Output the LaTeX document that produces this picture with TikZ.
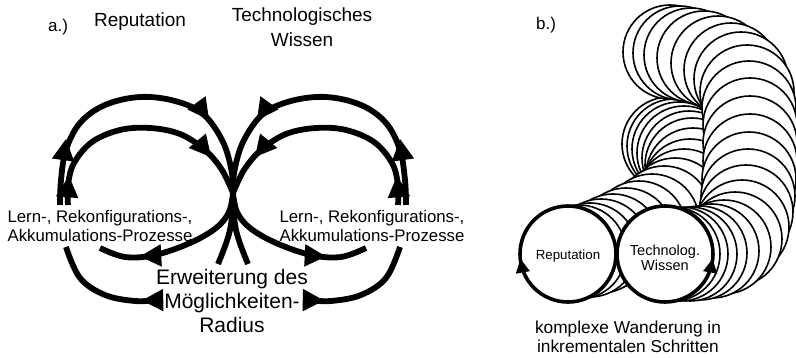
\documentclass[tikz,border=0pt]{standalone}
\usepackage{fontspec}
\setmainfont{Liberation Sans}
\tikzset{
  loopline/.style={line width=5.8pt},
  bgcirc/.style={draw, fill=white, line width=1.6pt},
  boldcirc/.style={draw, fill=white, line width=3.6pt},
  lbl/.style={inner sep=0pt, align=center},
}
% arrow head: tip point (x,y), screen angle, scale
\newcommand{\tipat}[4]{\fill[shift={(#1,#2)}, rotate=#3, scale=#4] (0,0) -- (-17,9) -- (-17,-9) -- cycle;}
\newcommand{\wingpaths}{%
  \draw[loopline] plot[smooth,tension=0.6] coordinates {(60,205) (61,180) (66,150) (80,123) (105,105) (140,97) (175,101) (203,114) (222,140) (231,168) (233,193) (230,230) (218,264)};
  \draw[loopline] plot[smooth,tension=0.6] coordinates {(68,205) (68,185) (74,163) (92,142) (120,130) (150,128) (180,134) (205,150) (222,170) (233,193)};
  \draw[loopline] plot[smooth,tension=0.6] coordinates {(233,193) (229,212) (216,228) (190,243) (155,255) (125,257) (100,248)};
  \draw[loopline] plot[smooth,tension=0.6] coordinates {(158,300) (135,301) (105,295) (80,278) (66,247)};
  \tipat{66}{139}{82}{1.25}
  \tipat{209}{120}{-54}{1.25}
  \tipat{69}{176}{85}{1.25}
  \tipat{211}{157}{-50}{1.25}
  \tipat{140}{256.5}{183}{1.25}
  \tipat{142}{300.5}{181}{1.25}
}
\begin{document}
\begin{tikzpicture}[x=1pt,y=-1pt]
\useasboundingbox (0,0) rectangle (796,358);
% ---------- part a ----------
\wingpaths
\begin{scope}[xshift=466pt, xscale=-1]
  \wingpaths
\end{scope}
\node[lbl, font=\fontsize{17}{20}\selectfont] (alab) at (58,27) {a.)};
\node[lbl, font=\fontsize{19}{24}\selectfont] (repa) at (140,22) {Reputation};
\node[lbl, font=\fontsize{19}{25}\selectfont] (techa) at (302,27) {Technologisches\\Wissen};
\node[lbl, font=\fontsize{16.8}{18.5}\selectfont] (procL) at (100,226) {Lern-, Rekonfigurations-,\\Akkumulations-Prozesse};
\node[lbl, font=\fontsize{16.8}{18.5}\selectfont] (procR) at (372,226) {Lern-, Rekonfigurations-,\\Akkumulations-Prozesse};
\node[lbl, font=\fontsize{21}{24}\selectfont] (erw) at (232,301) {Erweiterung des\\Möglichkeiten-\\Radius};
% ---------- part b ----------
\foreach \cx/\cy in {669/144, 674/146, 679/149, 684/153, 689/158, 692/165, 693/175, 690/186, 684/196, 675/205, 664/213, 652/221, 639/228, 626/235, 613/241, 601/246, 590/250, 579/252}
  \draw[bgcirc] (\cx,\cy) circle[radius=47pt];
\foreach \cx/\cy in {670/52, 680/53, 691/55, 704/58, 718/63, 731/70, 741/79, 747/92, 749/108, 750/125, 750/143, 750/161, 749/179, 748/196, 746/212, 742/227, 735/239, 724/247, 712/251, 700/253, 690/254, 681/254, 673/254}
  \draw[bgcirc] (\cx,\cy) circle[radius=47pt];
\draw[boldcirc] (568,254) circle[radius=48pt];
\draw[boldcirc] (665,254) circle[radius=48pt];
\tipat{520.5}{259}{100}{0.8}
\tipat{712.5}{259}{80}{0.8}
\node[lbl, font=\fontsize{17}{20}\selectfont] (blab) at (546,25) {b.)};
\node[lbl, font=\fontsize{13.3}{15}\selectfont] (repb) at (568,256) {Reputation};
\node[lbl, font=\fontsize{14.5}{15.5}\selectfont] (techb) at (665,258) {Technolog.\\Wissen};
\node[lbl, font=\fontsize{17.3}{19}\selectfont] (wand) at (628,337) {komplexe Wanderung in\\inkrementalen Schritten};
\end{tikzpicture}
\end{document}
